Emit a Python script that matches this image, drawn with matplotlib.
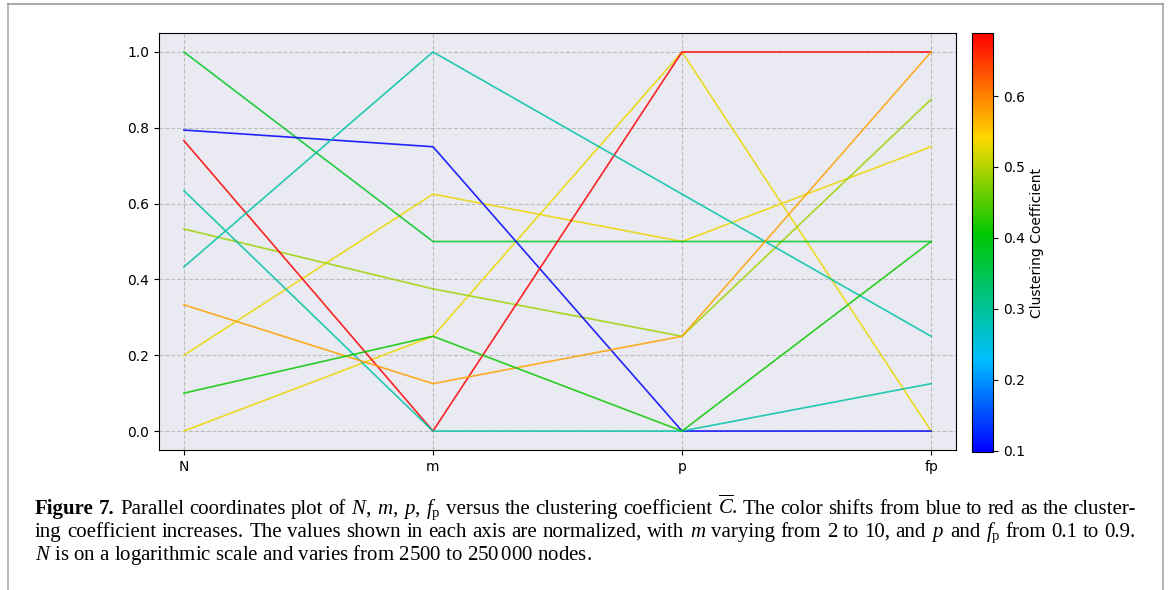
import numpy as np
import matplotlib
matplotlib.use("Agg")
import matplotlib.pyplot as plt
from matplotlib.colors import LinearSegmentedColormap, Normalize
from matplotlib.cm import ScalarMappable
from matplotlib.lines import Line2D

# Valores normalizados de cada eixo (uma entrada por rede)
columns = ["N", "m", "p", "fp"]
n_norm = [0.2, 0.0, 0.533, 1.0, 0.794, 0.766, 0.634, 0.433, 0.333, 0.1]
m_norm = [0.625, 0.25, 0.375, 0.5, 0.75, 0.0, 0.0, 1.0, 0.125, 0.25]
p_norm = [0.5, 1.0, 0.25, 0.5, 0.0, 1.0, 0.0, 0.625, 0.25, 0.0]
fp_norm = [0.75, 0.0, 0.875, 0.5, 0.0, 1.0, 0.125, 0.25, 1.0, 0.5]
clustering = [0.53, 0.53, 0.49, 0.38, 0.098, 0.689, 0.29, 0.29, 0.58, 0.41]
cbar_ticks = [0.1, 0.2, 0.3, 0.4, 0.5, 0.6]

caption_1 = (r"Figure 7. Parallel coordinates plot of $N$, $m$, $p$, $f_\mathrm{p}$ versus the "
             r"clustering coefficient $\overline{C}$. The color shifts from blue to red as the cluster-")
caption_2 = (r"ing coefficient increases. The values shown in each axis are normalized, with $m$ "
             r"varying from 2 to 10, and $p$ and $f_\mathrm{p}$ from 0.1 to 0.9.")
caption_3 = r"$N$ is on a logarithmic scale and varies from 2500 to 250$\,$000 nodes."

plt.rcParams["mathtext.fontset"] = "custom"
plt.rcParams["mathtext.rm"] = "Liberation Serif"
plt.rcParams["mathtext.it"] = "Liberation Serif:italic"
plt.rcParams["mathtext.bf"] = "Liberation Serif:bold"

W, H = 1170, 590
fig = plt.figure(figsize=(W / 100, H / 100), dpi=100)

# Mapa de cores azul -> vermelho
cmap = LinearSegmentedColormap.from_list(
    "clust", [(0.0, (0, 0, 1)), (0.22, (0, 0.75, 1)), (0.52, (0, 0.78, 0)),
              (0.75, (1, 0.85, 0)), (1.0, (1, 0, 0))])
norm = Normalize(vmin=min(clustering), vmax=max(clustering))

ax = fig.add_axes([159 / W, 1 - 450 / H, 797 / W, 417 / H])
ax.set_facecolor("#EAEAF2")
x = np.arange(len(columns))
for i in range(len(clustering)):
    vals = [n_norm[i], m_norm[i], p_norm[i], fp_norm[i]]
    ax.plot(x, vals, color=cmap(norm(clustering[i])), lw=1.2, alpha=0.85)

ax.set_xticks(x)
ax.set_xticklabels(columns)
ax.set_xlim(-0.1, 3.1)
ax.set_ylim(-0.05, 1.05)
ax.grid(True, linestyle="--", color="#bdbdbd", lw=0.8)
ax.set_axisbelow(True)
ax.tick_params(labelsize=10)

# Barra de cores
cax = fig.add_axes([972 / W, 1 - 452 / H, 21 / W, 419 / H])
cb = fig.colorbar(ScalarMappable(norm=norm, cmap=cmap), cax=cax)
cb.set_ticks(cbar_ticks)
cb.ax.tick_params(labelsize=10)
cb.set_label("Clustering Coefficient", fontsize=10)

# Moldura da pagina
gray = "#b8b8b8"
fig.add_artist(Line2D([8 / W, 8 / W], [0, 1 - 4 / H], transform=fig.transFigure, color=gray, lw=1.5))
fig.add_artist(Line2D([1163 / W, 1163 / W], [0, 1 - 4 / H], transform=fig.transFigure, color=gray, lw=1.5))
fig.add_artist(Line2D([8 / W, 1163 / W], [1 - 4 / H, 1 - 4 / H], transform=fig.transFigure, color="#999999", lw=1.2))

# Legenda (texto justificado)
fs = 15
renderer = fig.canvas.get_renderer()


def justified(text, y, x0, x1, n_bold=0):
    words = text.split(" ")
    texts = [fig.text(0, 1 - y / H, w, fontsize=fs, family="Liberation Serif",
                      weight="bold" if k < n_bold else "normal", va="baseline")
             for k, w in enumerate(words)]
    widths = [t.get_window_extent(renderer).width for t in texts]
    gap = (x1 - x0 - sum(widths)) / (len(words) - 1)
    pos = x0
    for t, w in zip(texts, widths):
        t.set_x(pos / W)
        pos += w + gap


justified(caption_1, 514, 35, 1136, n_bold=2)
justified(caption_2, 537, 35, 1136)
fig.text(35 / W, 1 - 560 / H, caption_3, fontsize=fs, family="Liberation Serif", va="baseline")

fig.savefig("out.png", dpi=100)
